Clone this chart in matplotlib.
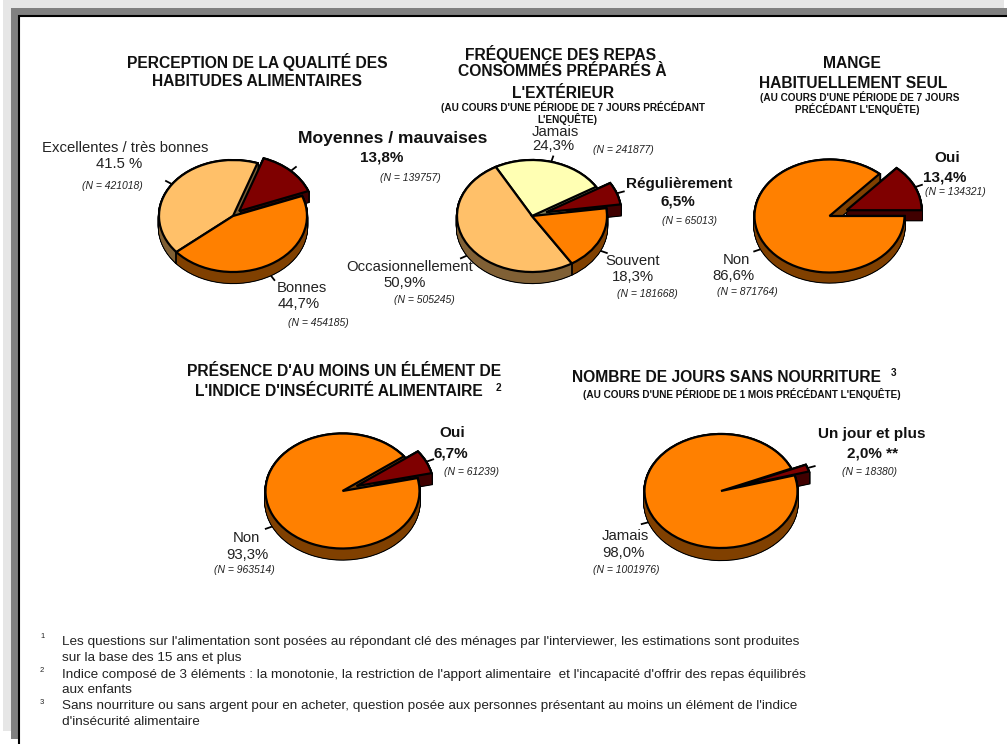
import matplotlib
matplotlib.use('Agg')
import matplotlib.pyplot as plt
from matplotlib.patches import Rectangle
import numpy as np

plt.rcParams['font.family'] = ['Liberation Sans', 'DejaVu Sans']

W, H = 1007, 744

# slice colours and the darker colours of the pie sides
LIGHT, ORANGE, RED, YELLOW = '#FFC069', '#FF8000', '#7F0000', '#FFFFB3'
LIGHT_S, ORANGE_S, RED_S, YELLOW_S = '#806035', '#804000', '#400000', '#808059'

# chart values, percent
qualite_vals = [13.8, 41.5, 44.7]
frequence_vals = [6.5, 24.3, 50.9, 18.3]
seul_vals = [13.4, 86.6]
insecurite_vals = [6.7, 93.3]
jours_vals = [2.0, 98.0]

# cx, cy, rx, ry, depth in pixels, start angle, explode of first slice
pies = [
    (qualite_vals, [RED, LIGHT, ORANGE], [RED_S, LIGHT_S, ORANGE_S], 233, 216, 74, 56, 11, 21, 0.12),
    (frequence_vals, [RED, YELLOW, LIGHT, ORANGE], [RED_S, YELLOW_S, LIGHT_S, ORANGE_S], 532, 216, 75, 56, 11, 8, 0.2),
    (seul_vals, [RED, ORANGE], [RED_S, ORANGE_S], 829.5, 216, 75, 56.5, 10, 0, 0.25),
    (insecurite_vals, [RED, ORANGE], [RED_S, ORANGE_S], 342.5, 491, 77, 57.5, 11, 13, 0.2),
    (jours_vals, [RED, ORANGE], [RED_S, ORANGE_S], 721, 491, 76.5, 57, 12, 16, 0.2),
]

# x, y, text
titres = [
    (257.5, 62, "PERCEPTION DE LA QUALITÉ DES"),
    (257.5, 81, "HABITUDES ALIMENTAIRES"),
    (561, 54, "FRÉQUENCE DES REPAS"),
    (562, 72, "CONSOMMÉS PRÉPARÉS À"),
    (563, 93, "L'EXTÉRIEUR"),
    (852, 64, "MANGE"),
    (853, 83, "HABITUELLEMENT SEUL"),
    (344, 371, "PRÉSENCE D'AU MOINS UN ÉLÉMENT DE"),
    (338.5, 392, "L'INDICE D'INSÉCURITÉ ALIMENTAIRE"),
    (726, 377, "NOMBRE DE JOURS SANS NOURRITURE"),
]
sous_titres = [
    (573, 107, "(AU COURS D'UNE PÉRIODE DE 7 JOURS PRÉCÉDANT"),
    (567, 119, "L'ENQUÊTE)"),
    (860, 97, "(AU COURS D'UNE PÉRIODE DE 7 JOURS"),
    (857, 109, "PRÉCÉDANT L'ENQUÊTE)"),
    (742, 394, "(AU COURS D'UNE PÉRIODE DE 1 MOIS PRÉCÉDANT L'ENQUÊTE)"),
    (498, 388, "2"),
    (894, 373, "3"),
]
labels = [
    (125, 148, "Excellentes / très bonnes"), (119, 164, "41.5 %"),
    (302, 288, "Bonnes"), (299, 304, "44,7%"),
    (555, 132, "Jamais"), (553, 146, "24,3%"),
    (633, 261, "Souvent"), (633, 277, "18,3%"),
    (410, 267, "Occasionnellement"), (405, 283, "50,9%"),
    (736, 260, "Non"), (733, 276, "86,6%"),
    (246, 538, "Non"), (247, 555, "93,3%"),
    (625, 536, "Jamais"), (623, 553, "98,0%"),
]
labels_gras = [
    (382, 158, "13,8%"),
    (679, 184, "Régulièrement"), (678, 202, "6,5%"),
    (947, 158, "Oui"), (945, 177, "13,4%"),
    (452, 433, "Oui"), (451, 453, "6,7%"),
    (872, 434, "Un jour et plus"), (873, 454, "2,0% **"),
]
effectifs = [
    (112, 186, "(N = 421018)"), (318, 323, "(N = 454185)"), (410, 178, "(N = 139757)"),
    (623, 150, "(N = 241877)"), (689, 221, "(N = 65013)"), (647, 294, "(N = 181668)"),
    (424, 300, "(N = 505245)"), (955, 192, "(N = 134321)"), (747, 292, "(N = 871764)"),
    (472, 472, "(N = 61239)"), (244, 570, "(N = 963514)"),
    (869, 472, "(N = 18380)"), (626, 570, "(N = 1001976)"),
]
notes = [
    (642, "Les questions sur l'alimentation sont posées au répondant clé des ménages par l'interviewer, les estimations sont produites"),
    (658, "sur la base des 15 ans et plus"),
    (675, "Indice composé de 3 éléments : la monotonie, la restriction de l'apport alimentaire  et l'incapacité d'offrir des repas équilibrés"),
    (690, "aux enfants"),
    (706, "Sans nourriture ou sans argent pour en acheter, question posée aux personnes présentant au moins un élément de l'indice"),
    (722, "d'insécurité alimentaire"),
]
appels = [(637, "1"), (671, "2"), (702, "3")]

fig = plt.figure(figsize=(W / 100, H / 100), dpi=100, facecolor='white')

# page background and frame, in pixels
bg = fig.add_axes([0, 0, 1, 1], zorder=0)
bg.set_xlim(0, W)
bg.set_ylim(H, 0)
bg.axis('off')
bg.add_patch(Rectangle((3, 0), 1001, 731, fc='#E6E6E6', ec='none'))
bg.add_patch(Rectangle((11, 8), W, 731, fc='#808080', ec='none'))
bg.add_patch(Rectangle((19, 16), W, 800, fc='white', ec='black', lw=1.5))


def draw_pie(vals, colors, sides, cx, cy, rx, ry, depth, start, expl):
    ax = fig.add_axes([(cx - 1.5 * rx) / W, 1 - (cy + 1.5 * ry) / H, 3 * rx / W, 3 * ry / H], zorder=1)
    ax.patch.set_alpha(0)
    explode = [expl] + [0] * (len(vals) - 1)
    d = depth / ry
    offs = np.linspace(d, 0, int(depth * 3))
    # black silhouette, then the coloured sides, then the top
    for off in offs:
        w1, _ = ax.pie(vals, explode=explode, colors=['black'] * len(vals), startangle=start,
                       center=(0, -off), wedgeprops={'ec': 'black', 'lw': 1.6})
        w2, _ = ax.pie(vals, explode=explode, colors=sides, startangle=start,
                       center=(0, -off), wedgeprops={'lw': 0})
        for i, (a, b) in enumerate(zip(w1, w2)):
            low = 1 if i == 0 else 3
            a.set_zorder(low)
            b.set_zorder(low + 1)
    tops, _ = ax.pie(vals, explode=explode, colors=colors, startangle=start,
                     wedgeprops={'ec': 'black', 'lw': 1.6})
    for t in tops:
        t.set_zorder(5)
    # side seams and leader ticks, from the slice angles
    edges = start + np.cumsum([0] + list(vals)) * 3.6
    for i in range(len(vals)):
        t0, t1 = np.radians(edges[i]), np.radians(edges[i + 1])
        if i > 0 and np.sin(t1) < 0 and i < len(vals) - 1:
            ax.plot([np.cos(t1)] * 2, [np.sin(t1), np.sin(t1) - d], color='black', lw=1.3, zorder=4.5)
        mid = (t0 + t1) / 2
        ox, oy = explode[i] * np.cos(mid), explode[i] * np.sin(mid)
        low = d if (np.sin(mid) < 0 and explode[i] == 0) else 0
        ax.plot([ox + np.cos(mid), ox + 1.1 * np.cos(mid)],
                [oy + np.sin(mid) - low, oy + 1.1 * np.sin(mid) - low],
                color='black', lw=1.3, zorder=0.5)
    ax.set_aspect('auto')
    ax.set_xlim(-1.5, 1.5)
    ax.set_ylim(-1.5, 1.5)


for p in pies:
    draw_pie(*p)

# text goes in a pixel axes on top
tx = fig.add_axes([0, 0, 1, 1], zorder=2)
tx.patch.set_alpha(0)
tx.set_xlim(0, W)
tx.set_ylim(H, 0)
tx.axis('off')
for x, y, s in titres:
    tx.text(x, y, s, ha='center', va='center', fontsize=11.25, fontweight='bold', color='#111111')
for x, y, s in sous_titres:
    tx.text(x, y, s, ha='center', va='center', fontsize=7.2, fontweight='bold', color='#111111')
for x, y, s in labels:
    tx.text(x, y, s, ha='center', va='center', fontsize=10.7, color='#222222')
for x, y, s in labels_gras:
    tx.text(x, y, s, ha='center', va='center', fontsize=11, fontweight='bold', color='#111111')
tx.text(393, 139, "Moyennes / mauvaises", ha='center', va='center', fontsize=12.6, fontweight='bold', color='#111111')
for x, y, s in effectifs:
    tx.text(x, y, s, ha='center', va='center', fontsize=7.5, style='italic', color='#222222')
for y, s in notes:
    tx.text(62, y, s, ha='left', va='center', fontsize=9.7, color='#222222')
for y, s in appels:
    tx.text(40, y, s, ha='left', va='center', fontsize=5.5, color='#222222')

fig.savefig('out.png', dpi=100)
